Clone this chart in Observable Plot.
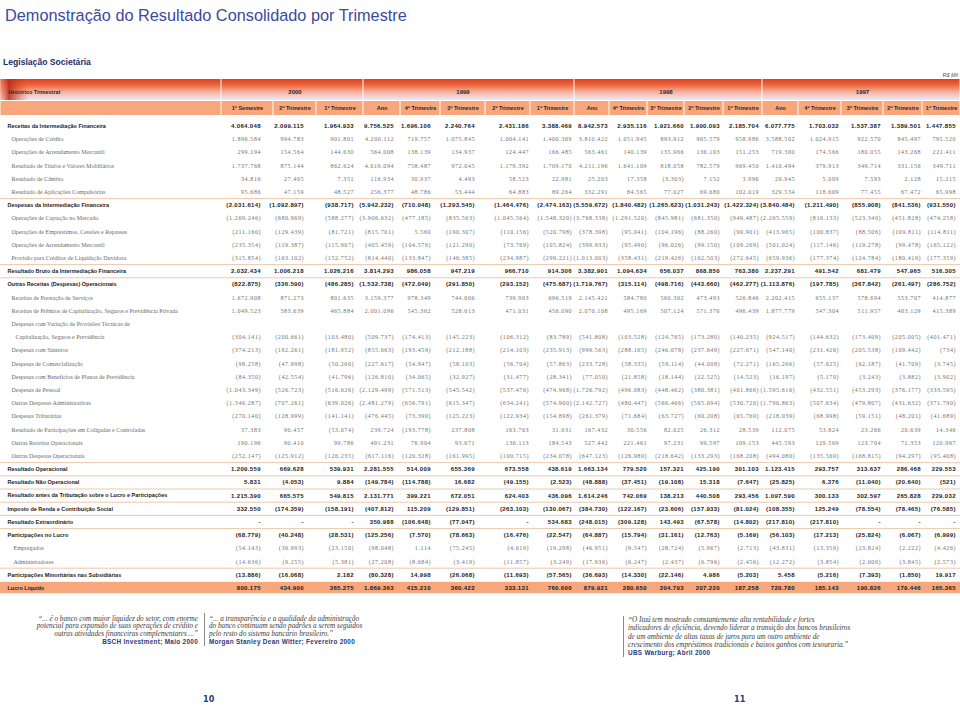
<!DOCTYPE html>
<html><head><meta charset="utf-8">
<script src="https://cdn.jsdelivr.net/npm/d3@7"></script>
<script src="https://cdn.jsdelivr.net/npm/@observablehq/plot@0.6"></script>
<style>
body{margin:0;background:#fff;}
#page{position:relative;width:960px;height:705px;overflow:hidden;font-family:"Liberation Sans",Arial,sans-serif;}
#title{position:absolute;left:5px;top:6px;font-size:16.3px;color:#3a4aa0;white-space:nowrap}
#sub{position:absolute;left:3px;top:57px;font-size:8.6px;font-weight:bold;color:#1f2d6b;white-space:nowrap}
#unit{position:absolute;right:2px;top:72px;font-size:5.5px;font-style:italic;color:#555}
#hdr{position:absolute;left:0;top:78px}
#body{position:absolute;left:0;top:116px}
.q{position:absolute;font-family:"Liberation Serif",serif;font-style:italic;font-size:7.2px;line-height:7.4px;color:#3a3a3a;white-space:nowrap}
.src{font-family:"Liberation Sans",Arial,sans-serif;font-style:normal;font-weight:bold;color:#2b3a7a;font-size:6.4px;letter-spacing:.3px}
.vl{position:absolute;width:1px;background:#8a8a8a}
.pn{position:absolute;top:694px;font-family:"Liberation Sans Narrow","DejaVu Sans Condensed",sans-serif;font-weight:bold;font-size:9px;color:#2b3a7a}
</style></head>
<body>
<div id="page">
  <div id="title">Demonstração do Resultado Consolidado por Trimestre</div>
  <div id="sub">Legislação Societária</div>
  <div id="unit">R$ Mil</div>
  <div id="hdr"></div>
  <div id="body"></div>
  <div class="q" style="right:762px;top:616px;text-align:right">“... é o banco com maior liquidez do setor, com enorme<br>potencial para expansão de suas operações de crédito e<br>outras atividades financeiras complementares ...”<br><span class="src">BSCH Investment; Maio 2000</span></div>
  <div class="vl" style="left:204px;top:613px;height:33px"></div>
  <div class="q" style="left:209px;top:616px">“... a transparência e a qualidade da administração<br>do banco continuam sendo padrões a serem seguidos<br>pelo resto do sistema bancário brasileiro.”<br><span class="src">Morgan Stanley Dean Witter; Fevereiro 2000</span></div>
  <div class="vl" style="left:623px;top:616px;height:41px"></div>
  <div class="q" style="left:628px;top:616px;line-height:8.3px">“O Itaú tem mostrado constantemente alta rentabilidade e fortes<br>indicadores de eficiência, devendo liderar a transição dos bancos brasileiros<br>de um ambiente de altas taxas de juros para um outro ambiente de<br>crescimento dos empréstimos tradicionais e baixos ganhos com tesouraria.”<br><span class="src">UBS Warburg; Abril 2000</span></div>
  <div class="pn" style="left:203px">10</div>
  <div class="pn" style="left:734px">11</div>
</div>
<script>
// ---------- DATA ----------
const anos = ["2000", "1999", "1998", "1997"];
const colunasPorAno = [3, 5, 5, 5];
const periodos = ["1º Semestre","2º Trimestre","1º Trimestre","Ano","4º Trimestre","3º Trimestre","2º Trimestre","1º Trimestre","Ano","4º Trimestre","3º Trimestre","2º Trimestre","1º Trimestre","Ano","4º Trimestre","3º Trimestre","2º Trimestre","1º Trimestre"];

const receitasIntermediacao = [4064048, 2099115, 1964933, 9756525, 1696106, 2240764, 2431186, 3388469, 8942573, 2935116, 1921660, 1900093, 2185704, 6077775, 1703032, 1537387, 1389501, 1447855];
const operacoesCredito = [1896584, 994783, 901801, 4200112, 719757, 1075845, 1004141, 1400369, 3810422, 1051945, 893912, 905579, 958986, 3588502, 1024915, 922570, 845497, 795520];
const arrendamentoReceita = [299194, 154564, 144630, 564008, 138139, 134937, 124447, 166485, 563461, 140139, 135966, 136103, 151253, 719300, 174566, 180055, 143268, 221411];
const titulosValores = [1737768, 875144, 862624, 4619094, 758487, 972045, 1179392, 1709170, 4211196, 1641109, 818058, 782579, 969450, 1410494, 379913, 349714, 331156, 349711];
const cambio = [34816, 27465, 7351, 116934, 30937, 4493, 58523, 22981, 25203, 17358, -3303, 7152, 3996, 29945, 5009, 7593, 2128, 15215];
const compulsorias = [95686, 47159, 48527, 256377, 48786, 53444, 64883, 89264, 332291, 84565, 77027, 69680, 102019, 329534, 118609, 77455, 67472, 65998];
const despesasIntermediacao = [-2031614, -1092897, -938717, -5942232, -710048, -1293545, -1464476, -2474163, -5559672, -1840482, -1265623, -1031243, -1422324, -3840484, -1211490, -855908, -841536, -931550];
const captacao = [-1269246, -680969, -588277, -3906632, -477185, -835563, -1045564, -1548320, -3768338, -1291520, -845981, -681350, -949487, -2265559, -816133, -523340, -451828, -474258];
const emprestimos = [-211160, -129439, -81721, -815701, 5560, -190307, -110156, -520798, -378398, -95041, -104196, -88260, -90901, -413965, -100837, -88506, -109811, -114811];
const arrendamentoDespesa = [-235354, -119387, -115967, -405459, -104576, -121290, -73769, -105824, -399933, -95490, -96026, -99150, -109269, -501024, -117146, -119278, -99478, -165122];
const provisao = [-315854, -163102, -152752, -814440, -133847, -146385, -234987, -299221, -1013003, -358431, -219426, -162503, -272645, -659936, -177374, -124784, -180419, -177359];
const resultadoBruto = [2032434, 1006218, 1026216, 3814293, 986058, 947219, 966710, 914306, 3382901, 1094634, 656037, 868850, 763380, 2237291, 491542, 681479, 547965, 516305];
const outrasReceitasDespesas = [-822875, -336590, -486285, -1532738, -472049, -291850, -293152, -475687, -1719767, -315114, -498716, -443660, -462277, -1113876, -197785, -367842, -261497, -286752];
const prestacaoServicos = [1672908, 871273, 801635, 3159377, 978349, 744606, 739903, 696519, 2145421, 584780, 560302, 473493, 526846, 2202415, 655137, 578694, 553707, 414877];
const premios = [1049523, 583639, 465884, 2001096, 545362, 528613, 471031, 456090, 2070108, 495169, 507124, 571376, 496439, 1877779, 547304, 511957, 403129, 415389];
const variacaoProvisoes = [-304141, -200661, -103480, -509737, -174413, -145223, -106312, -83789, -541808, -103528, -124765, -173280, -140235, -924517, -144632, -173409, -205005, -401471];
const sinistros = [-374213, -192261, -181952, -855663, -193459, -212188, -214103, -235913, -999563, -288165, -246078, -237649, -227671, -547140, -231426, -205538, -109442, -734];
const comercializacao = [-98258, -47998, -50260, -227617, -54947, -58103, -56704, -57863, -233728, -58335, -59114, -44008, -72271, -165266, -57625, -62187, -41709, -3745];
const beneficios = [-84350, -42554, -41796, -126810, -34065, -32927, -31477, -28341, -77050, -21858, -18144, -22525, -14523, -16197, -5170, -3243, -3882, -3902];
const pessoal = [-1043349, -526723, -516626, -2129499, -571513, -545542, -537476, -474968, -1726792, -496083, -448462, -380381, -401866, -1595616, -432551, -453293, -376177, -333595];
const administrativas = [-1346287, -707261, -639026, -2481279, -656791, -615347, -634241, -574900, -2142727, -480447, -566466, -565094, -530720, -1790863, -507634, -479807, -431632, -371790];
const tributarias = [-270140, -128999, -141141, -476445, -73390, -125223, -122934, -154898, -261379, -71684, -63727, -60208, -65760, -218039, -68998, -59151, -48201, -41689];
const coligadas = [37383, 90457, -53074, 239724, -193778, 237808, 163763, 31931, 167432, 30556, 82025, 26312, 28539, 112075, 53824, 23266, 20639, 14346];
const outrasReceitasOp = [190196, 90410, 99786, 491231, 76904, 93671, 136113, 184543, 527442, 221461, 97231, 99597, 109153, 445593, 129569, 123704, 71353, 120967];
const outrasDespesasOp = [-252147, -125912, -126235, -617116, -120328, -161995, -100715, -234078, -647123, -126980, -218642, -133293, -168208, -494080, -135560, -168815, -94297, -95408];
const resultadoOperacional = [1209559, 669628, 539931, 2281555, 514009, 655369, 673558, 438619, 1663134, 779520, 157321, 425190, 301103, 1123415, 293757, 313637, 286468, 229553];
const resultadoNaoOperacional = [5831, -4053, 9884, -149784, -114788, 16682, -49155, -2523, -48888, -37451, -19108, 15318, -7647, -25825, 6376, -11040, -20640, -521];
const resultadoAntesTributacao = [1215390, 665575, 549815, 2131771, 399221, 672051, 624403, 436096, 1614246, 742069, 138213, 440508, 293456, 1097590, 300133, 302597, 265828, 229032];
const impostoRenda = [332550, -174359, -158191, -407812, 115209, -129851, -263103, -130067, -384730, -122167, -23606, -157933, -81024, -108355, 125249, -78554, -78465, -76585];
const extraordinario = [null, null, null, 350988, -106648, -77047, null, 534683, -248015, -309128, 143493, -67578, -14802, -217810, -217810, null, null, null];
const participacoesLucro = [-68779, -40248, -28531, -125256, -7570, -78663, -16476, -22547, -64887, -15794, -31161, -12763, -5169, -56103, -17213, -25824, -6067, -6999];
const empregados = [-54143, -30993, -23150, -98048, 1114, -75245, -4619, -19298, -46951, -9547, -28724, -5967, -2713, -43831, -13359, -23824, -2222, -4426];
const administradores = [-14636, -9255, -5381, -27208, -8684, -3419, -11857, -3249, -17936, -6247, -2437, -6796, -2456, -12272, -3854, -2000, -3845, -2573];
const minoritarias = [-13886, -16068, 2182, -80328, 14998, -26068, -11693, -57565, -36693, -14330, -22146, 4986, -5203, 5458, -5216, -7393, -1850, 19917];
const lucroLiquido = [800175, 434900, 365275, 1869363, 415210, 360422, 333131, 760600, 879921, 280650, 204793, 207220, 187258, 720780, 185143, 190826, 179446, 165365];

const rowLabels = [
 "Receitas da Intermediação Financeira","Operações de Crédito","Operações de Arrendamento Mercantil","Resultado de Títulos e Valores Mobiliários","Resultado de Câmbio","Resultado de Aplicações Compulsórias",
 "Despesas da Intermediação Financeira","Operações de Captação no Mercado","Operações de Empréstimos, Cessões e Repasses","Operações de Arrendamento Mercantil","Provisão para Créditos de Liquidação Duvidosa",
 "Resultado Bruto da Intermediação Financeira","Outras Receitas (Despesas) Operacionais","Receitas de Prestação de Serviços","Receitas de Prêmios de Capitalização, Seguros e Previdência Privada",
 "Despesas com Variação de Provisões Técnicas de","Capitalização, Seguros e Previdência","Despesas com Sinistros","Despesas de Comercialização","Despesas com Benefícios de Planos de Previdência",
 "Despesas de Pessoal","Outras Despesas Administrativas","Despesas Tributárias","Resultado de Participações em Coligadas e Controladas","Outras Receitas Operacionais","Outras Despesas Operacionais",
 "Resultado Operacional","Resultado Não Operacional","Resultado antes da Tributação sobre o Lucro e Participações","Imposto de Renda e Contribuição Social","Resultado Extraordinário",
 "Participações no Lucro","Empregados","Administradores","Participações Minoritárias nas Subsidiárias","Lucro Líquido"];
const rowSeries = [receitasIntermediacao, operacoesCredito, arrendamentoReceita, titulosValores, cambio, compulsorias,
 despesasIntermediacao, captacao, emprestimos, arrendamentoDespesa, provisao,
 resultadoBruto, outrasReceitasDespesas, prestacaoServicos, premios,
 null, variacaoProvisoes, sinistros, comercializacao, beneficios,
 pessoal, administrativas, tributarias, coligadas, outrasReceitasOp, outrasDespesasOp,
 resultadoOperacional, resultadoNaoOperacional, resultadoAntesTributacao, impostoRenda, extraordinario,
 participacoesLucro, empregados, administradores, minoritarias, lucroLiquido];
// row kind: "total" (bold) or "item"; level = indentation depth
const rowKind = ["total","item","item","item","item","item","total","item","item","item","item","total","total","item","item","item","item","item","item","item","item","item","item","item","item","item","total","total","total","total","total","total","item","item","total","total"];
const rowLevel = [0,1,1,1,1,1,0,1,1,1,1,0,0,1,1,1,2,1,1,1,1,1,1,1,1,1,0,0,0,0,0,0,1.5,1.5,0,0];
const separatorBefore = [6, 11, 12, 26, 27, 28, 29, 30, 31, 34];
const highlightRow = 35;

// ---------- LAYOUT (not data) ----------
const headerEdges = [0, 221, 273, 316, 363, 400, 440, 485, 530, 574, 609, 647, 684, 723, 762, 798, 841, 883, 922, 960];
const numberRight = [260, 303, 353, 393, 430, 474, 528, 571, 607, 646, 683, 719, 758, 794, 838, 880, 920, 955];

// ---------- FORMAT ----------
const loc = d3.formatLocale({decimal: ",", thousands: ".", grouping: [3], currency: ["R$", ""]});
const f0 = loc.format(",d");
const fmt = v => v == null ? "-" : v < 0 ? `(${f0(-v)})` : f0(v);

// ---------- HEADER ----------
let acc = 1;
const yearCells = [{x1: 0, x2: 1, label: "Histórico Trimestral"}];
anos.forEach((a, i) => { yearCells.push({x1: acc, x2: acc + colunasPorAno[i], label: a}); acc += colunasPorAno[i]; });
const periodCells = [{x1: 0, x2: 1, label: ""}].concat(periodos.map((p, i) => ({x1: i + 1, x2: i + 2, label: p})));

const hdr = Plot.plot({
  width: 960, height: 38, margin: 0,
  style: {background: "transparent", overflow: "visible"},
  x: {type: "linear", domain: d3.range(headerEdges.length), range: headerEdges, axis: null},
  y: {type: "linear", domain: [0, 1, 2], range: [1, 22.5, 37], axis: null},
  marks: [
    Plot.rect(yearCells, {x1: "x1", x2: "x2", y1: () => 0, y2: () => 1, fill: "url(#hg)", insetLeft: 0.5, insetRight: 0.5, insetBottom: 0.5}),
    Plot.rect(yearCells.slice(0, 1), {x1: "x1", x2: "x2", y1: () => 0, y2: () => 1, fill: "url(#edge)", insetBottom: 0.5}),
    Plot.rect(periodCells, {x1: "x1", x2: "x2", y1: () => 1, y2: () => 2, fill: "#f8a67b", insetLeft: 0.5, insetRight: 0.5, insetTop: 0.5}),
    Plot.text(yearCells.slice(0, 1), {x: "x1", y: () => 0.5, text: "label", textAnchor: "start", dx: 8, dy: 2, fontFamily: "Liberation Sans", fontWeight: "bold", fontSize: 5.5, fill: "#2a2a2a"}),
    Plot.text(yearCells.slice(1), {x: d => (d.x1 + d.x2) / 2, y: () => 0.5, text: "label", dy: 1.5, fontFamily: "Liberation Sans", fontWeight: "bold", fontSize: 6, fill: "#2a2a2a"}),
    Plot.text(periodCells.slice(1), {x: d => (d.x1 + d.x2) / 2, y: () => 1.5, text: "label", fontFamily: "Liberation Sans", fontWeight: "bold", fontSize: 5.5, fill: "#2a2a2a"})
  ]
});
hdr.insertAdjacentHTML("afterbegin", `<defs>
<linearGradient id="hg" x1="0" y1="0" x2="0" y2="1">
<stop offset="0" stop-color="#e23d18"/><stop offset="0.3" stop-color="#ee6a44"/><stop offset="0.65" stop-color="#f5b7a6"/><stop offset="1" stop-color="#eee8f6"/>
</linearGradient>
<linearGradient id="edge" x1="0" y1="0" x2="1" y2="0">
<stop offset="0" stop-color="#f09a78" stop-opacity="0.5"/><stop offset="0.04" stop-color="#b82a14" stop-opacity="0.85"/><stop offset="0.13" stop-color="#e04a20" stop-opacity="0"/>
</linearGradient></defs>`);
document.getElementById("hdr").appendChild(hdr);

// ---------- BODY ----------
const rows = rowLabels.map((label, i) => ({i, label, kind: rowKind[i], level: rowLevel[i]}));
const cells = rows.flatMap(r => (rowSeries[r.i] || []).map((v, c) => ({row: r.i, col: c, v, kind: r.kind})));
const xEdges = [0, 7].concat(numberRight, [960]);

const labelMark = (lvl, kind, opts) => Plot.text(rows.filter(r => r.level === lvl && r.kind === kind),
  {x: () => 0, y: "i", text: "label", textAnchor: "start", dx: lvl * 4, ...opts});
const boldTxt = {fontFamily: "Liberation Sans", fontWeight: "bold", fontSize: 5.5, fill: "#1c1c1c"};
const serifTxt = {fontFamily: "Liberation Serif", fontSize: 6, fill: "#6a6a6a"};
const LS_BOLD = 0.35, LS_SERIF = 0.6;

const body = Plot.plot({
  width: 960, height: 482, margin: 0,
  style: {background: "transparent", overflow: "visible"},
  x: {type: "linear", domain: d3.range(-1, 20), range: xEdges, axis: null},
  y: {type: "linear", domain: [0, 35], range: [9.5, 471.5], axis: null},
  marks: [
    Plot.rect([highlightRow], {x1: () => -1, x2: () => 19, y1: d => d - 0.43, y2: d => d + 0.43, fill: "#f8a67b"}),
    Plot.ruleY(separatorBefore, {y: d => d - 0.5, x1: () => -1, x2: () => 19, stroke: "#ecc9ab", strokeWidth: 1}),
    labelMark(0, "total", boldTxt),
    labelMark(1, "item", serifTxt),
    labelMark(2, "item", serifTxt),
    labelMark(1.5, "item", serifTxt),
    Plot.text(cells.filter(d => d.kind === "total"), {x: d => d.col + 1, y: "row", text: d => fmt(d.v), textAnchor: "end", dx: LS_BOLD,
      fontFamily: "Liberation Sans, Arial", fontWeight: "bold", fontSize: 6, fill: "#1c1c1c"}),
    Plot.text(cells.filter(d => d.kind === "item"), {x: d => d.col + 1, y: "row", text: d => fmt(d.v), textAnchor: "end", dx: LS_SERIF,
      fontFamily: "Liberation Serif, Times", fontSize: 6, fill: "#707070"})
  ]
});
document.getElementById("body").appendChild(body);
const spacing = {"Liberation Sans, Arial": LS_BOLD, "Liberation Serif, Times": LS_SERIF};
body.querySelectorAll("g[font-family]").forEach(g => {
  const s = spacing[g.getAttribute("font-family")];
  if (s) g.setAttribute("letter-spacing", s);
});
</script>
</body></html>
